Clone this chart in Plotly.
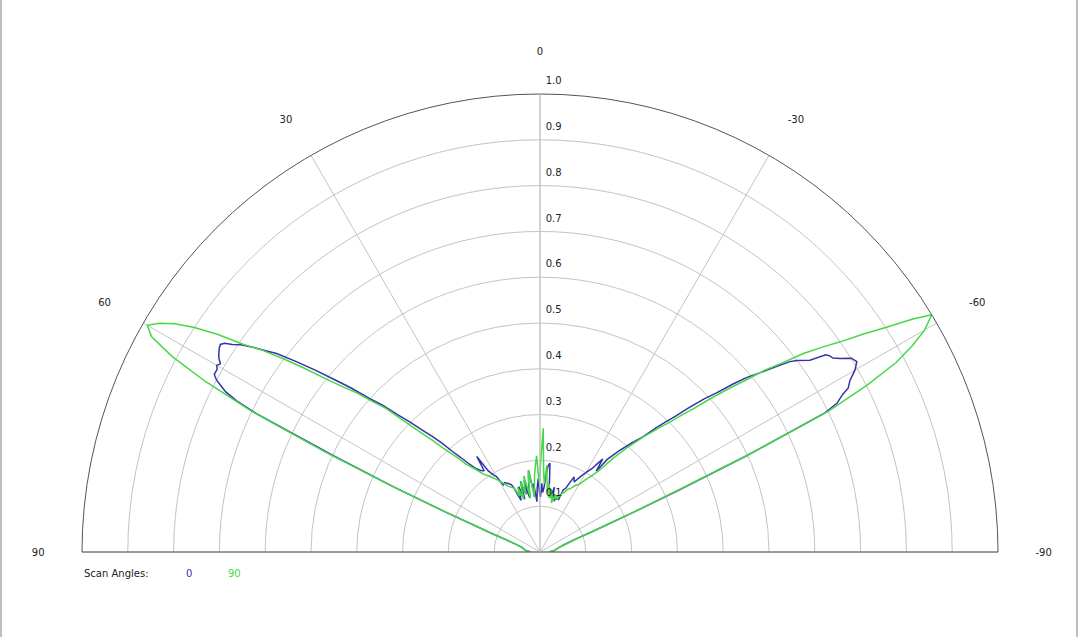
import plotly.graph_objects as go

# Normalised array patterns vs. angle (degrees), two scan angles.
# scan angle 0  -> blue trace
theta_scan0 = [
    90, 85, 80, 76, 73, 71, 70, 69, 68, 67, 66, 65, 64, 63.5, 63, 62.5, 62,
    61.4, 60.5, 60, 59.5, 58.8, 58.2, 57.5, 57, 56.5, 56, 55.3, 54.5, 53.8,
    53, 52, 51, 50, 49, 48, 47, 46, 45, 44, 43, 42, 41, 40, 39, 38, 37.5,
    36, 34.5, 33.5, 32.5, 31, 30, 28.7, 27, 25, 23,
    22, 21, 20, 19, 18, 17, 16, 15.5, 14.5, 13.5, 12.5, 11.5, 10.5, 9.5,
    8.5, 8, 7, 6.2, 5.5, 4.5, 3.5, 2.5, 1.5, 0.5, -0.5, -1.5, -2.5, -3.5,
    -4.5, -5.5, -6.4, -7.5, -8.5, -9.5, -10.5, -11.5, -12.5, -13.5, -14.5,
    -15.5, -16.5, -17.5, -18.5, -19.5, -20.5, -22, -24.4, -26, -28, -30,
    -32, -33, -34, -34.8, -36, -38, -40, -41.8, -43, -44, -45, -45.8, -47,
    -48, -49, -49.8, -51, -52, -52.7, -53.3, -54.6, -55.4, -55.9, -56.5,
    -57.2, -58.1, -59, -60, -61, -62, -62.5, -63.4, -64, -65, -66, -67,
    -68, -69, -70, -73, -78, -85, -90,
]
r_scan0 = [
    0.02, 0.03, 0.035, 0.04, 0.05, 0.065, 0.08, 0.11, 0.15, 0.23, 0.35, 0.50,
    0.69, 0.74, 0.77, 0.785, 0.80, 0.81, 0.81, 0.815, 0.81, 0.82, 0.825,
    0.83, 0.832, 0.826, 0.81, 0.795, 0.77, 0.745, 0.72, 0.675, 0.63, 0.585,
    0.545, 0.50, 0.47, 0.43, 0.40, 0.37, 0.345, 0.32, 0.29, 0.27, 0.25,
    0.235, 0.23, 0.22, 0.215, 0.25, 0.21, 0.195, 0.19, 0.167, 0.17, 0.165,
    0.16,
    0.15, 0.13, 0.12, 0.14, 0.15, 0.13, 0.12, 0.16, 0.14, 0.13, 0.16, 0.13,
    0.12, 0.15, 0.17, 0.18, 0.15, 0.135, 0.15, 0.13, 0.11, 0.14, 0.16, 0.13,
    0.12, 0.15, 0.13, 0.14, 0.17, 0.19, 0.195, 0.16, 0.13, 0.14, 0.12, 0.13,
    0.145, 0.12, 0.13, 0.115, 0.125, 0.12, 0.13, 0.12, 0.145, 0.15, 0.18,
    0.17, 0.185, 0.20, 0.215, 0.23, 0.245, 0.215, 0.25, 0.28, 0.31, 0.337,
    0.37, 0.395, 0.42, 0.45, 0.49, 0.52, 0.56, 0.59, 0.625, 0.66, 0.686,
    0.70, 0.723, 0.758, 0.764, 0.767, 0.78, 0.801, 0.807, 0.794, 0.774,
    0.762, 0.745, 0.725, 0.69, 0.50, 0.33, 0.22, 0.15, 0.11, 0.085, 0.055,
    0.04, 0.03, 0.02,
]

# scan angle 90 -> green trace
theta_scan90 = [
    90, 85, 80, 76, 73, 71, 70, 69, 68, 67, 66, 65, 64, 63, 62, 61, 60, 59,
    58, 57, 56, 55, 54, 53, 52, 51, 50, 49, 48, 47, 46, 45, 44, 43, 42, 41,
    40, 38, 36, 34, 32, 30, 28, 26, 24, 22,
    21, 20, 19, 18, 17, 16, 15, 14, 13, 12, 11, 10, 9, 8, 7, 6, 5, 4, 3, 2,
    1, 0.5, -0.5, -1.5, -2.5, -3.5, -4.5, -5.5, -7, -8, -9, -10, -11, -12,
    -13, -14, -15, -16, -17, -18, -19, -20, -21,
    -22, -24, -26, -28, -30, -32, -34, -36, -38, -40, -42, -44, -45, -46,
    -47, -48, -49, -50, -51, -52, -53, -54, -55, -56, -57, -58, -58.8, -60,
    -61, -62, -63, -64, -65, -66, -67, -68, -69, -70, -73, -78, -85, -90,
]
r_scan90 = [
    0.02, 0.03, 0.035, 0.04, 0.05, 0.07, 0.08, 0.11, 0.15, 0.23, 0.36, 0.52,
    0.70, 0.82, 0.91, 0.97, 0.99, 0.97, 0.94, 0.90, 0.85, 0.79, 0.75, 0.70,
    0.65, 0.60, 0.56, 0.53, 0.49, 0.46, 0.41, 0.37, 0.34, 0.31, 0.29, 0.27,
    0.25, 0.23, 0.21, 0.20, 0.19, 0.18, 0.17, 0.16, 0.155, 0.15,
    0.14, 0.13, 0.15, 0.13, 0.12, 0.15, 0.16, 0.13, 0.15, 0.17, 0.14, 0.12,
    0.16, 0.18, 0.15, 0.12, 0.14, 0.17, 0.19, 0.21, 0.16, 0.15, 0.20, 0.27,
    0.18, 0.15, 0.19, 0.16, 0.13, 0.15, 0.12, 0.14, 0.12, 0.13, 0.11, 0.12,
    0.13, 0.12, 0.13, 0.12, 0.13, 0.13, 0.14,
    0.14, 0.15, 0.155, 0.165, 0.17, 0.185, 0.20, 0.22, 0.26, 0.30, 0.34,
    0.38, 0.40, 0.43, 0.46, 0.50, 0.54, 0.58, 0.63, 0.67, 0.72, 0.76, 0.80,
    0.85, 0.90, 0.96, 1.0, 0.97, 0.93, 0.88, 0.80, 0.70, 0.50, 0.32, 0.22,
    0.15, 0.11, 0.09, 0.06, 0.04, 0.03, 0.02,
]

angle_ticks = [90, 60, 30, 0, -30, -60, -90]
angle_labels = ["90", "60", "30", "0", "-30", "-60", "-90"]
radial_ticks = [0.1, 0.2, 0.3, 0.4, 0.5, 0.6, 0.7, 0.8, 0.9, 1.0]
radial_labels = ["0.1", "0.2", "0.3", "0.4", "0.5", "0.6", "0.7", "0.8", "0.9", "1.0"]
legend_title = "Scan Angles:"
series_names = ["0", "90"]

BLUE = "#3434a8"
GREEN = "#46d846"
GRID = "#c4c4c4"
FONT = dict(family="DejaVu Sans, sans-serif", size=10, color="#222222")

fig = go.Figure()
fig.add_trace(go.Scatterpolar(
    theta=theta_scan0, r=r_scan0, mode="lines", name=series_names[0],
    line=dict(color=BLUE, width=1.5),
))
fig.add_trace(go.Scatterpolar(
    theta=theta_scan90, r=r_scan90, mode="lines", name=series_names[1],
    line=dict(color=GREEN, width=1.5),
))

# an empty second line lifts each radial label above its ring, as in the original
radial_text = [" " + s + "<br>&nbsp;<br>&nbsp;" for s in radial_labels]

fig.update_layout(
    width=1080, height=637,
    margin=dict(l=82, r=82, t=94, b=85),
    paper_bgcolor="white",
    showlegend=False,
    font=FONT,
    polar=dict(
        sector=[0, 180],
        bgcolor="white",
        domain=dict(x=[0, 1], y=[0, 1]),
        angularaxis=dict(
            rotation=90, direction="counterclockwise",
            tickmode="array", tickvals=angle_ticks, ticktext=angle_labels,
            ticks="outside", ticklen=35, tickcolor="rgba(0,0,0,0)",
            showline=True, linecolor="#555555", linewidth=1,
            showgrid=True, gridcolor=GRID, gridwidth=1,
            tickfont=FONT,
        ),
        radialaxis=dict(
            range=[0, 1], angle=90, side="clockwise",
            tickmode="array", tickvals=radial_ticks, ticktext=radial_text,
            ticks="", showline=True, linecolor=GRID, linewidth=1,
            showgrid=True, gridcolor=GRID, gridwidth=1,
            tickfont=FONT, tickangle=90,
        ),
    ),
)

# legend written as coloured text below the plot
fig.add_annotation(x=0, y=-0.046, xref="paper", yref="paper",
                   xanchor="left", yanchor="middle",
                   text=legend_title, showarrow=False, font=FONT)
fig.add_annotation(x=0.111, y=-0.046, xref="paper", yref="paper",
                   yanchor="middle", text=series_names[0], showarrow=False,
                   font=dict(family=FONT["family"], size=10, color=BLUE))
fig.add_annotation(x=0.157, y=-0.046, xref="paper", yref="paper",
                   yanchor="middle", text=series_names[1], showarrow=False,
                   font=dict(family=FONT["family"], size=10, color=GREEN))

# thin frame lines at the left and right edges of the image
for px in (-0.0884, 1.0862):
    fig.add_shape(type="line", xref="paper", yref="paper", x0=px, x1=px,
                  y0=-0.19, y1=1.21, line=dict(color="#bdbdbd", width=2))

# page body margin off so the figure sits at the window origin
fig.write_html("out.html", config={"displayModeBar": False},
               post_script="document.body.style.margin='0';")
